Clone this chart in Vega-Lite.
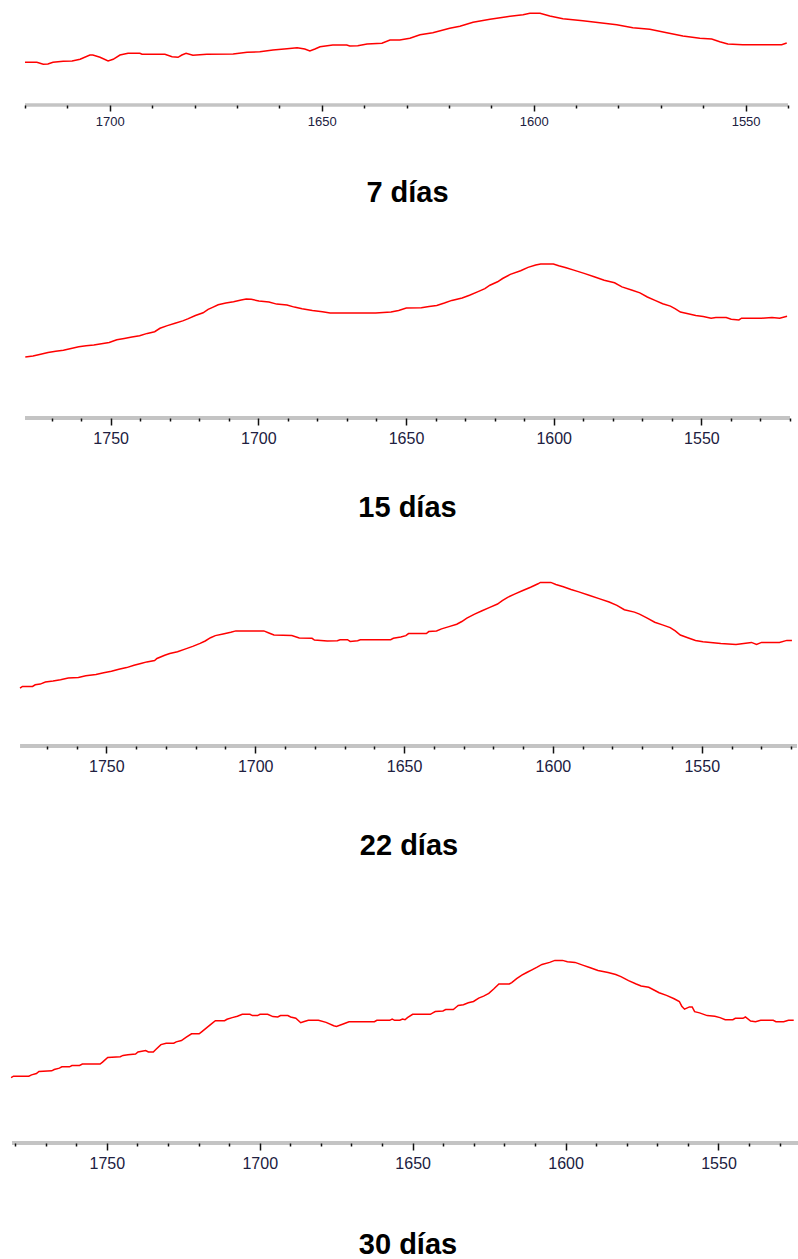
{
  "$schema": "https://vega.github.io/schema/vega-lite/v6.json",
  "background": "white",
  "padding": {"left": 8, "top": 5, "right": 0, "bottom": 0},
  "spacing": 0,
  "config": {"view": {"stroke": null}},
  "datasets": {
    "d7": [
      {"w":1720,"v":42.7},{"w":1717.2,"v":42.7},{"w":1715.7,"v":40.7},{"w":1714.6,"v":41},{"w":1713.4,"v":42.7},{"w":1711,"v":43.7},{"w":1708.9,"v":44},{"w":1707,"v":45.7},{"w":1704.7,"v":50},{"w":1704,"v":50},{"w":1702.3,"v":47.7},{"w":1700.4,"v":44},{"w":1699.2,"v":45.7},{"w":1697.6,"v":50},{"w":1695.7,"v":51.7},{"w":1692.9,"v":51.7},{"w":1692.4,"v":50.7},{"w":1687,"v":50.7},{"w":1685.3,"v":48.3},{"w":1683.9,"v":47.7},{"w":1683,"v":50},{"w":1682,"v":51.7},{"w":1680.4,"v":49.7},{"w":1677.1,"v":50.7},{"w":1670.9,"v":51},{"w":1667.6,"v":52.7},{"w":1664.6,"v":53.3},{"w":1661.5,"v":55},{"w":1658.2,"v":56.3},{"w":1655.8,"v":57.3},{"w":1654,"v":56},{"w":1652.8,"v":54},{"w":1651.6,"v":56},{"w":1650.4,"v":58.3},{"w":1647.4,"v":60},{"w":1644.1,"v":60},{"w":1643.4,"v":59},{"w":1641.5,"v":59.3},{"w":1639.3,"v":61},{"w":1635.8,"v":61.7},{"w":1633.9,"v":65},{"w":1631.6,"v":65},{"w":1629.2,"v":66.7},{"w":1626.8,"v":70.3},{"w":1623.8,"v":72.3},{"w":1619.8,"v":76.7},{"w":1617.4,"v":78.7},{"w":1614.3,"v":82.7},{"w":1610.3,"v":85.7},{"w":1606.3,"v":88.3},{"w":1602.5,"v":90.3},{"w":1600.9,"v":91.7},{"w":1598.5,"v":91.7},{"w":1596.2,"v":89},{"w":1593.1,"v":86.3},{"w":1588.4,"v":84.3},{"w":1584.4,"v":82.3},{"w":1580.4,"v":80.3},{"w":1576.6,"v":77.3},{"w":1572.6,"v":75.7},{"w":1568.6,"v":72.3},{"w":1564.8,"v":69},{"w":1560.8,"v":66.7},{"w":1558,"v":66},{"w":1556.1,"v":63.3},{"w":1554.2,"v":61},{"w":1550.7,"v":60.3},{"w":1541.5,"v":60.3},{"w":1540.3,"v":62}
    ],
    "d15": [
      {"w":1778.9,"v":61.1},{"w":1776.3,"v":62.1},{"w":1773.7,"v":63.8},{"w":1771.2,"v":65.5},{"w":1768.6,"v":66.8},{"w":1766,"v":67.8},{"w":1763.4,"v":69.5},{"w":1760.8,"v":71.2},{"w":1758.3,"v":72.2},{"w":1755.7,"v":72.9},{"w":1753.1,"v":74.2},{"w":1750.5,"v":75.6},{"w":1747.9,"v":78.3},{"w":1745.4,"v":79.6},{"w":1742.8,"v":80.9},{"w":1740.2,"v":82.3},{"w":1737.6,"v":84.6},{"w":1735.1,"v":86.3},{"w":1733.3,"v":89.7},{"w":1730.8,"v":92.4},{"w":1728.2,"v":94.7},{"w":1725.6,"v":97.1},{"w":1723.9,"v":99.1},{"w":1721.3,"v":102.5},{"w":1718.7,"v":105.2},{"w":1717,"v":108.6},{"w":1715.3,"v":110.9},{"w":1713.6,"v":113.3},{"w":1711,"v":115},{"w":1708.4,"v":116.3},{"w":1705.8,"v":118},{"w":1704.1,"v":119},{"w":1702.4,"v":118.7},{"w":1699.8,"v":117},{"w":1696.4,"v":116},{"w":1693.8,"v":113.9},{"w":1690.3,"v":112.9},{"w":1687.8,"v":110.9},{"w":1685.2,"v":109.2},{"w":1681.7,"v":107.5},{"w":1678.3,"v":106.2},{"w":1675.7,"v":104.9},{"w":1667.1,"v":104.9},{"w":1660.3,"v":104.9},{"w":1655.1,"v":105.9},{"w":1652.5,"v":107.5},{"w":1649.9,"v":109.9},{"w":1644.8,"v":110.2},{"w":1642.2,"v":111.6},{"w":1639.6,"v":112.6},{"w":1637,"v":115},{"w":1634.5,"v":117.6},{"w":1631,"v":120},{"w":1628.5,"v":122.7},{"w":1625.8,"v":126.1},{"w":1623.3,"v":129.4},{"w":1621.6,"v":132.8},{"w":1619,"v":136.2},{"w":1617.3,"v":139.5},{"w":1614.7,"v":143.6},{"w":1611.2,"v":147.3},{"w":1608.7,"v":150.6},{"w":1606.1,"v":153},{"w":1604.4,"v":154},{"w":1600.1,"v":154},{"w":1598.3,"v":152.3},{"w":1595.8,"v":150.3},{"w":1593.2,"v":147.9},{"w":1589.7,"v":144.6},{"w":1586.3,"v":141.2},{"w":1582.9,"v":137.8},{"w":1579.4,"v":135.2},{"w":1576.9,"v":131.1},{"w":1573.4,"v":127.7},{"w":1570.8,"v":125.1},{"w":1568.3,"v":121},{"w":1565.7,"v":117.6},{"w":1563.1,"v":114.3},{"w":1560.5,"v":111.9},{"w":1558.8,"v":109.2},{"w":1557.1,"v":105.9},{"w":1554.5,"v":104.2},{"w":1551.9,"v":102.5},{"w":1549.4,"v":101.5},{"w":1546.7,"v":99.8},{"w":1545.1,"v":100.5},{"w":1541.6,"v":100.5},{"w":1539.9,"v":98.8},{"w":1537.3,"v":98.1},{"w":1536.4,"v":99.8},{"w":1529.6,"v":99.8},{"w":1526.1,"v":100.5},{"w":1523.5,"v":99.8},{"w":1521,"v":101.8}
    ],
    "d22": [
      {"w":1779,"v":57.8},{"w":1778.2,"v":59.5},{"w":1774.8,"v":59.5},{"w":1773.9,"v":61.2},{"w":1772.2,"v":61.9},{"w":1770.5,"v":63.9},{"w":1767.9,"v":64.9},{"w":1765.4,"v":66.2},{"w":1762.8,"v":67.9},{"w":1759.4,"v":68.6},{"w":1756.9,"v":70.3},{"w":1753.5,"v":71.6},{"w":1750.9,"v":73.3},{"w":1748.3,"v":74.7},{"w":1745.8,"v":76.7},{"w":1743.2,"v":78.4},{"w":1740.7,"v":80.7},{"w":1738.1,"v":82.7},{"w":1736.4,"v":84.1},{"w":1733.8,"v":85.4},{"w":1733,"v":87.5},{"w":1730.4,"v":90.8},{"w":1728.7,"v":92.5},{"w":1726.1,"v":94.2},{"w":1723.6,"v":96.9},{"w":1721,"v":99.6},{"w":1718.5,"v":102.6},{"w":1716.8,"v":105},{"w":1715,"v":108.3},{"w":1713.4,"v":110.4},{"w":1710.8,"v":112},{"w":1708.2,"v":113.7},{"w":1706.5,"v":115.1},{"w":1702.3,"v":115.1},{"w":1697.1,"v":115.1},{"w":1695.4,"v":113},{"w":1693.7,"v":111},{"w":1687.7,"v":110.4},{"w":1685.2,"v":108},{"w":1680.9,"v":107.7},{"w":1680.1,"v":106},{"w":1675.8,"v":105},{"w":1672.4,"v":105.3},{"w":1671.5,"v":106.3},{"w":1669,"v":106.3},{"w":1668.1,"v":104.6},{"w":1665.6,"v":105.3},{"w":1664.7,"v":106.3},{"w":1654.5,"v":106.3},{"w":1653.6,"v":107.7},{"w":1651.1,"v":109},{"w":1649.4,"v":110.4},{"w":1648.5,"v":112.4},{"w":1642.5,"v":112.4},{"w":1641.7,"v":114.4},{"w":1639.1,"v":115.1},{"w":1637.4,"v":117.1},{"w":1634.9,"v":119.4},{"w":1632.3,"v":121.8},{"w":1630.6,"v":124.5},{"w":1628.9,"v":127.9},{"w":1626.3,"v":131.9},{"w":1623.8,"v":135.3},{"w":1621.2,"v":138.6},{"w":1618.6,"v":142},{"w":1617,"v":145.4},{"w":1615.2,"v":148.7},{"w":1612.7,"v":152.1},{"w":1610.1,"v":155.5},{"w":1607.5,"v":158.8},{"w":1605,"v":162.2},{"w":1604.2,"v":163.6},{"w":1600.7,"v":163.6},{"w":1599,"v":161.5},{"w":1596.5,"v":159.2},{"w":1593.9,"v":156.5},{"w":1591.3,"v":154.1},{"w":1587.9,"v":150.8},{"w":1584.5,"v":147.4},{"w":1581.1,"v":144},{"w":1578.5,"v":140.7},{"w":1576,"v":136.3},{"w":1572.6,"v":133.9},{"w":1570.9,"v":131.9},{"w":1568.3,"v":127.9},{"w":1565.8,"v":123.8},{"w":1563.2,"v":121.1},{"w":1560.6,"v":118.4},{"w":1558.9,"v":115.1},{"w":1557.2,"v":111},{"w":1554.7,"v":108.3},{"w":1552.1,"v":105.6},{"w":1549.6,"v":104.3},{"w":1543.6,"v":102.6},{"w":1538.5,"v":101.6},{"w":1535.9,"v":102.6},{"w":1533.3,"v":103.6},{"w":1531.6,"v":101.6},{"w":1529.9,"v":103.6},{"w":1523.9,"v":103.6},{"w":1521.4,"v":105.6},{"w":1519.7,"v":105.6}
    ],
    "d30": [
      {"w":1781.3,"v":65.4},{"w":1780.5,"v":66.8},{"w":1775.5,"v":66.8},{"w":1774.6,"v":68.1},{"w":1773,"v":69.5},{"w":1772.2,"v":71.5},{"w":1768,"v":72.2},{"w":1767.2,"v":73.5},{"w":1765.5,"v":74.9},{"w":1764.7,"v":76.2},{"w":1762.2,"v":76.2},{"w":1761.4,"v":77.5},{"w":1758.9,"v":77.5},{"w":1758,"v":78.9},{"w":1752.2,"v":78.9},{"w":1751.4,"v":80.9},{"w":1749.7,"v":85.6},{"w":1745.6,"v":86.3},{"w":1744.7,"v":87.6},{"w":1743.1,"v":88.3},{"w":1740.6,"v":89},{"w":1739.8,"v":91},{"w":1737.3,"v":92.4},{"w":1736.4,"v":91},{"w":1734.8,"v":91},{"w":1733.9,"v":93.7},{"w":1732.3,"v":98.4},{"w":1730.6,"v":99.8},{"w":1728.1,"v":99.8},{"w":1727.3,"v":101.1},{"w":1725.6,"v":102.5},{"w":1724,"v":105.8},{"w":1722.3,"v":109.2},{"w":1719.8,"v":109.2},{"w":1719,"v":111.2},{"w":1717.3,"v":115.3},{"w":1715.7,"v":119.3},{"w":1714.5,"v":122.3},{"w":1711.5,"v":122.3},{"w":1710.7,"v":123.7},{"w":1709,"v":125.4},{"w":1707.3,"v":126.7},{"w":1705.7,"v":128.7},{"w":1703.2,"v":128.7},{"w":1702.4,"v":127.4},{"w":1700.7,"v":127.4},{"w":1699.9,"v":128.7},{"w":1697.4,"v":128.7},{"w":1695.7,"v":126.4},{"w":1694.1,"v":126},{"w":1693.2,"v":127.4},{"w":1690.8,"v":127.4},{"w":1689.9,"v":126},{"w":1688.2,"v":124.7},{"w":1686.6,"v":120.3},{"w":1685.7,"v":121.3},{"w":1684.1,"v":122.7},{"w":1680.8,"v":122.7},{"w":1678.3,"v":120.6},{"w":1675.8,"v":117.3},{"w":1674.9,"v":116.6},{"w":1672.5,"v":119.3},{"w":1670.8,"v":121.3},{"w":1662.5,"v":121.3},{"w":1661.7,"v":122.7},{"w":1657.5,"v":122.7},{"w":1656.7,"v":124},{"w":1655.9,"v":122.7},{"w":1654.2,"v":122.7},{"w":1653.3,"v":124},{"w":1652.5,"v":123.3},{"w":1651.7,"v":125.4},{"w":1650,"v":128.7},{"w":1644.2,"v":128.7},{"w":1643.4,"v":130.1},{"w":1642.6,"v":131.4},{"w":1640.1,"v":132.1},{"w":1639.2,"v":133.4},{"w":1636.7,"v":133.4},{"w":1635.9,"v":135.5},{"w":1635.1,"v":137.5},{"w":1633.4,"v":138.2},{"w":1631.8,"v":140.2},{"w":1630.1,"v":141.5},{"w":1628.4,"v":144.9},{"w":1626.8,"v":146.9},{"w":1625.1,"v":149.6},{"w":1623.5,"v":154},{"w":1621.8,"v":159},{"w":1618.4,"v":159},{"w":1617.6,"v":160.4},{"w":1616,"v":164.4},{"w":1614.3,"v":167.8},{"w":1612.7,"v":170.5},{"w":1611,"v":173.2},{"w":1609.3,"v":175.9},{"w":1607.7,"v":178.6},{"w":1605.2,"v":180.6},{"w":1603.5,"v":182.6},{"w":1601,"v":182.6},{"w":1599.4,"v":181.3},{"w":1596.9,"v":180.6},{"w":1594.4,"v":177.9},{"w":1591.9,"v":175.2},{"w":1589.4,"v":172.5},{"w":1586.1,"v":170.5},{"w":1583.6,"v":168.5},{"w":1581.9,"v":166.4},{"w":1579.4,"v":162.4},{"w":1576.9,"v":159},{"w":1575.3,"v":157},{"w":1572.8,"v":155.7},{"w":1571.1,"v":153},{"w":1569.4,"v":150.3},{"w":1567,"v":147.6},{"w":1564.5,"v":144.2},{"w":1562.8,"v":141.5},{"w":1562,"v":136.8},{"w":1561.1,"v":133.8},{"w":1559.5,"v":136.1},{"w":1558.6,"v":136.1},{"w":1557.8,"v":131.4},{"w":1556.2,"v":130.1},{"w":1553.7,"v":127.4},{"w":1551.2,"v":126.7},{"w":1549.5,"v":125.4},{"w":1547.8,"v":123.3},{"w":1545.3,"v":123.3},{"w":1544.5,"v":124.7},{"w":1542,"v":124.7},{"w":1541.2,"v":126},{"w":1539.5,"v":122},{"w":1537.9,"v":121.3},{"w":1536.2,"v":122.7},{"w":1532.1,"v":122.7},{"w":1531.2,"v":121.3},{"w":1528.7,"v":121.3},{"w":1527.1,"v":122.7},{"w":1525.4,"v":122.7}
    ]
  },
  "vconcat": [
    {
      "width": 776, "height": 100,
      "resolve": {"axis": {"x": "independent", "y": "independent"}},
      "layer": [
        {
          "data": {"values": [{"a": 1720, "b": 1540, "z": 0}]},
          "mark": {"type": "rule", "color": "#c4c4c4", "strokeWidth": 3.5},
          "encoding": {"x": {"field": "a", "type": "quantitative", "axis": null}, "x2": {"field": "b"}, "y": {"field": "z", "type": "quantitative", "axis": null}}
        },
        {
          "data": {"name": "d7"},
          "mark": {"type": "line", "color": "#ff0000", "strokeWidth": 1.5},
          "encoding": {
            "x": {"field": "w", "type": "quantitative",
              "scale": {"domain": [1540, 1723.07], "reverse": true, "nice": false, "zero": false},
              "axis": {"orient": "bottom", "title": null, "grid": false, "format": "d", "domain": false, "zindex": 1,
                "values": [1720,1710,1700,1690,1680,1670,1660,1650,1640,1630,1620,1610,1600,1590,1580,1570,1560,1550,1540],
                "labelExpr": "datum.value % 50 === 0 ? datum.label : ''",
                "tickSize": {"condition": {"test": "datum.value % 50 === 0", "value": 6}, "value": 3},
                "tickColor": "#111111", "tickWidth": 1.5,
                "labelFont": "Liberation Sans", "labelFontSize": 13, "labelColor": "#202040", "labelPadding": 4,
                "labelFlush": false, "labelOverlap": false}},
            "y": {"field": "v", "type": "quantitative", "scale": {"domain": [0, 100], "nice": false}, "axis": null}
          }
        }
      ],
      "title": {"text": "7 días", "orient": "bottom", "anchor": "middle", "frame": "group", "dx": 7.5, "font": "Liberation Sans", "fontSize": 29, "fontWeight": "bold", "color": "#000000", "offset": 51}
    },
    {
      "width": 778, "height": 210,
      "resolve": {"axis": {"x": "independent", "y": "independent"}},
      "layer": [
        {
          "data": {"values": [{"a": 1779, "b": 1520, "z": 0}]},
          "mark": {"type": "rule", "color": "#c4c4c4", "strokeWidth": 4},
          "encoding": {"x": {"field": "a", "type": "quantitative", "axis": null}, "x2": {"field": "b"}, "y": {"field": "z", "type": "quantitative", "axis": null}}
        },
        {
          "data": {"name": "d15"},
          "mark": {"type": "line", "color": "#ff0000", "strokeWidth": 1.5},
          "encoding": {
            "x": {"field": "w", "type": "quantitative",
              "scale": {"domain": [1520, 1783.4], "reverse": true, "nice": false, "zero": false},
              "axis": {"orient": "bottom", "title": null, "grid": false, "format": "d", "domain": false, "zindex": 1,
                "values": [1770,1760,1750,1740,1730,1720,1710,1700,1690,1680,1670,1660,1650,1640,1630,1620,1610,1600,1590,1580,1570,1560,1550,1540,1530,1520],
                "labelExpr": "datum.value % 50 === 0 ? datum.label : ''",
                "tickSize": {"condition": {"test": "datum.value % 50 === 0", "value": 7}, "value": 3},
                "tickColor": "#111111", "tickWidth": 1.5,
                "labelFont": "Liberation Sans", "labelFontSize": 16, "labelColor": "#202040", "labelPadding": 5,
                "labelFlush": false, "labelOverlap": false}},
            "y": {"field": "v", "type": "quantitative", "scale": {"domain": [0, 210], "nice": false}, "axis": null}
          }
        }
      ],
      "title": {"text": "15 días", "orient": "bottom", "anchor": "middle", "frame": "group", "dx": 6.5, "font": "Liberation Sans", "fontSize": 29, "fontWeight": "bold", "color": "#000000", "offset": 48}
    },
    {
      "width": 785, "height": 223,
      "resolve": {"axis": {"x": "independent", "y": "independent"}},
      "layer": [
        {
          "data": {"values": [{"a": 1779, "b": 1518, "z": 0}]},
          "mark": {"type": "rule", "color": "#c4c4c4", "strokeWidth": 4},
          "encoding": {"x": {"field": "a", "type": "quantitative", "axis": null}, "x2": {"field": "b"}, "y": {"field": "z", "type": "quantitative", "axis": null}}
        },
        {
          "data": {"name": "d22"},
          "mark": {"type": "line", "color": "#ff0000", "strokeWidth": 1.5},
          "encoding": {
            "x": {"field": "w", "type": "quantitative",
              "scale": {"domain": [1518, 1781.7], "reverse": true, "nice": false, "zero": false},
              "axis": {"orient": "bottom", "title": null, "grid": false, "format": "d", "domain": false, "zindex": 1,
                "values": [1770,1760,1750,1740,1730,1720,1710,1700,1690,1680,1670,1660,1650,1640,1630,1620,1610,1600,1590,1580,1570,1560,1550,1540,1530,1520],
                "labelExpr": "datum.value % 50 === 0 ? datum.label : ''",
                "tickSize": {"condition": {"test": "datum.value % 50 === 0", "value": 7}, "value": 3},
                "tickColor": "#111111", "tickWidth": 1.5,
                "labelFont": "Liberation Sans", "labelFontSize": 16, "labelColor": "#202040", "labelPadding": 5,
                "labelFlush": false, "labelOverlap": false}},
            "y": {"field": "v", "type": "quantitative", "scale": {"domain": [0, 223], "nice": false}, "axis": null}
          }
        }
      ],
      "title": {"text": "22 días", "orient": "bottom", "anchor": "middle", "frame": "group", "dx": 4.5, "font": "Liberation Sans", "fontSize": 29, "fontWeight": "bold", "color": "#000000", "offset": 58}
    },
    {
      "width": 786, "height": 282,
      "resolve": {"axis": {"x": "independent", "y": "independent"}},
      "layer": [
        {
          "data": {"values": [{"a": 1781, "b": 1524, "z": 0}]},
          "mark": {"type": "rule", "color": "#c4c4c4", "strokeWidth": 4},
          "encoding": {"x": {"field": "a", "type": "quantitative", "axis": null}, "x2": {"field": "b"}, "y": {"field": "z", "type": "quantitative", "axis": null}}
        },
        {
          "data": {"name": "d30"},
          "mark": {"type": "line", "color": "#ff0000", "strokeWidth": 1.5},
          "encoding": {
            "x": {"field": "w", "type": "quantitative",
              "scale": {"domain": [1524, 1781], "reverse": true, "nice": false, "zero": false},
              "axis": {"orient": "bottom", "title": null, "grid": false, "format": "d", "domain": false, "zindex": 1,
                "values": [1780,1770,1760,1750,1740,1730,1720,1710,1700,1690,1680,1670,1660,1650,1640,1630,1620,1610,1600,1590,1580,1570,1560,1550,1540,1530],
                "labelExpr": "datum.value % 50 === 0 ? datum.label : ''",
                "tickSize": {"condition": {"test": "datum.value % 50 === 0", "value": 7}, "value": 3},
                "tickColor": "#111111", "tickWidth": 1.5,
                "labelFont": "Liberation Sans", "labelFontSize": 16, "labelColor": "#202040", "labelPadding": 5,
                "labelFlush": false, "labelOverlap": false}},
            "y": {"field": "v", "type": "quantitative", "scale": {"domain": [0, 282], "nice": false}, "axis": null}
          }
        }
      ],
      "title": {"text": "30 días", "orient": "bottom", "anchor": "middle", "frame": "group", "dx": 3, "font": "Liberation Sans", "fontSize": 29, "fontWeight": "bold", "color": "#000000", "offset": 60}
    }
  ]
}
